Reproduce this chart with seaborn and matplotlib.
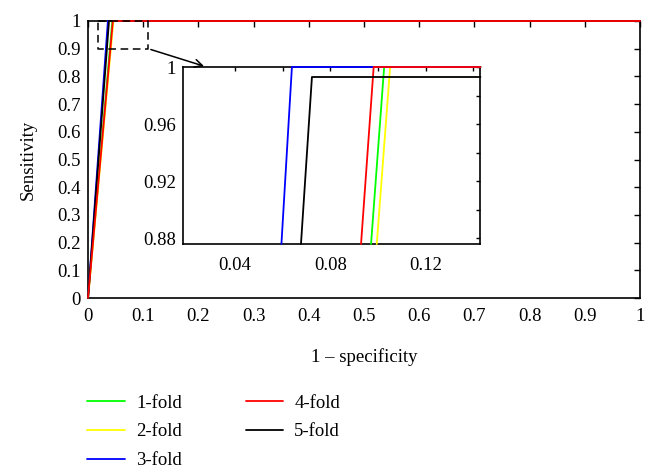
#Importing libraries
import pandas as pd
import matplotlib
matplotlib.use("Agg")
import matplotlib.pyplot as plt
import seaborn as sns
import numpy as np

#Fold names and colours
folds = ["1-fold", "2-fold", "3-fold", "4-fold", "5-fold"]
colours = ["#00ff00", "#ffff00", "#0000ff", "#ff0000", "#000000"]

#ROC points (1 - specificity, sensitivity)
fpr_1 = [0.0, 0.044, 1.0]
fpr_2 = [0.0, 0.046, 1.0]
fpr_3 = [0.0, 0.036, 1.0]
fpr_4 = [0.0, 0.045, 1.0]
fpr_5 = [0.0, 0.038, 1.0]
tpr_full = [0.0, 1.0, 1.0]

#ROC points
zoom_fpr_1 = [0.0971, 0.1026, 0.143]
zoom_fpr_2 = [0.0995, 0.1051, 0.143]
zoom_fpr_3 = [0.0595, 0.0639, 0.143]
zoom_fpr_4 = [0.0929, 0.0982, 0.143]
zoom_fpr_5 = [0.0677, 0.0723, 0.143]
zoom_tpr = [0.8758, 1.0, 1.0]
zoom_tpr_5 = [0.8758, 0.993, 0.993]

#Tick labels
x_ticks = [0, 0.1, 0.2, 0.3, 0.4, 0.5, 0.6, 0.7, 0.8, 0.9, 1]
x_tick_labels = ["0", "0.1", "0.2", "0.3", "0.4", "0.5", "0.6", "0.7", "0.8", "0.9", "1"]
y_ticks = [0, 0.1, 0.2, 0.3, 0.4, 0.5, 0.6, 0.7, 0.8, 0.9, 1]
y_tick_labels = ["0", "0.1", "0.2", "0.3", "0.4", "0.5", "0.6", "0.7", "0.8", "0.9", "1"]
zoom_x_ticks = [0.04, 0.08, 0.12]
zoom_x_tick_labels = ["0.04", "0.08", "0.12"]
zoom_y_ticks = [0.88, 0.92, 0.96, 1.0]
zoom_y_tick_labels = ["0.88", "0.92", "0.96", "1"]

#Building long form tables
full_fpr = [fpr_1, fpr_2, fpr_3, fpr_4, fpr_5]
zoom_fpr = [zoom_fpr_1, zoom_fpr_2, zoom_fpr_3, zoom_fpr_4, zoom_fpr_5]
zoom_tprs = [zoom_tpr, zoom_tpr, zoom_tpr, zoom_tpr, zoom_tpr_5]

FullFrame = pd.concat([pd.DataFrame({"fpr": f, "tpr": tpr_full, "fold": n}) for f, n in zip(full_fpr, folds)])
ZoomFrame = pd.concat([pd.DataFrame({"fpr": f, "tpr": t, "fold": n}) for f, t, n in zip(zoom_fpr, zoom_tprs, folds)])

palette = dict(zip(folds, colours))

sns.set_style("white")
plt.rcParams["font.family"] = ["Liberation Serif", "DejaVu Serif"]
plt.rcParams["text.color"] = "black"
plt.rcParams["axes.labelcolor"] = "black"
fs = 13.5
plt.rcParams["font.size"] = fs

fig = plt.figure(figsize=(6.54, 4.75), dpi=100)
ax = fig.add_axes([0.1346, 0.3726, 0.8440, 0.5832])

#Main plot, red drawn last so the top edge looks like the reference
full_order = ["1-fold", "2-fold", "3-fold", "5-fold", "4-fold"]
for name in full_order:
    sns.lineplot(data=FullFrame[FullFrame["fold"] == name], x="fpr", y="tpr", color=palette[name],
                 estimator=None, sort=False, lw=1.3, ax=ax, legend=False)
for line in ax.lines:
    line.set_clip_on(False)
    line.set_zorder(3)

ax.set_xlim(0, 1)
ax.set_ylim(0, 1)
ax.set_xticks(x_ticks)
ax.set_xticklabels(x_tick_labels)
ax.set_yticks(y_ticks)
ax.set_yticklabels(y_tick_labels)
ax.tick_params(direction="in", length=4, width=1, top=True, right=True, labelsize=fs, colors="black")
ax.tick_params(axis="x", pad=7)
ax.tick_params(axis="y", pad=5)
for s in ax.spines.values():
    s.set_color("black")
    s.set_linewidth(1.2)
ax.set_xlabel("1 \u2013 specificity", fontsize=fs, labelpad=17)
ax.set_ylabel("Sensitivity", fontsize=fs, labelpad=15)

#Dashed box showing the zoomed region
ax.plot([0.018, 0.108, 0.108, 0.018, 0.018], [1.0, 1.0, 0.9, 0.9, 1.0], color="black", lw=1.1, ls=(0, (5, 3)), clip_on=False, zorder=4)

#Inset
ins = fig.add_axes([0.2798, 0.4863, 0.4541, 0.3726])
zoom_order = ["1-fold", "2-fold", "3-fold", "4-fold", "5-fold"]
for name in zoom_order:
    sns.lineplot(data=ZoomFrame[ZoomFrame["fold"] == name], x="fpr", y="tpr", color=palette[name],
                 estimator=None, sort=False, lw=1.3, ax=ins, legend=False)
for line in ins.lines:
    line.set_clip_on(False)
    line.set_zorder(3)
ins.set_xlim(0.0182, 0.1428)
ins.set_ylim(0.8758, 1.0)
ins.set_xticks(zoom_x_ticks)
ins.set_xticklabels(zoom_x_tick_labels)
ins.set_yticks(zoom_y_ticks)
ins.set_yticklabels(zoom_y_tick_labels)
ins.set_xticks([0.06, 0.10, 0.14], minor=True)
ins.set_yticks([0.90, 0.94, 0.98], minor=True)
ins.tick_params(which="both", direction="in", length=3, width=1, top=True, right=True, labelsize=fs, colors="black")
ins.tick_params(axis="x", pad=9)
ins.tick_params(axis="y", pad=5)
ins.set_xlabel("")
ins.set_ylabel("")
for s in ins.spines.values():
    s.set_color("black")
    s.set_linewidth(1.2)

#Arrow from the dashed box to the inset
ins.annotate("", xy=(0.08, 1.0), xycoords="axes fraction", xytext=(0.109, 0.9), textcoords=ax.transData,
             arrowprops=dict(arrowstyle="->", color="black", lw=1.1, mutation_scale=14), annotation_clip=False)

#Legend below the plot
handles = [plt.Line2D([], [], color=c, lw=1.3) for c in colours]
fig.legend(handles, folds, loc="upper left", bbox_to_anchor=(0.122, 0.185), ncol=2, frameon=False,
           fontsize=fs, handlelength=2.0, handletextpad=0.6, columnspacing=3.4, labelspacing=0.62, borderaxespad=0)

fig.savefig("out.png", dpi=100)
